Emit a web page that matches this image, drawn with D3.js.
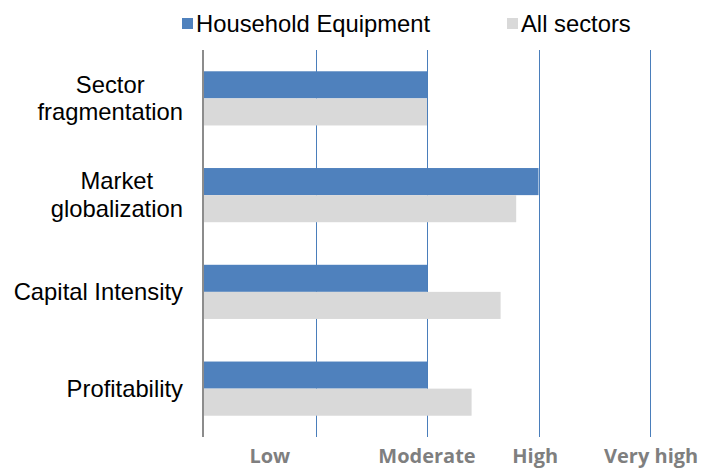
<!DOCTYPE html>
<html>
<head>
<meta charset="utf-8">
<script src="https://cdn.jsdelivr.net/npm/d3@7"></script>
<style>
  body { margin: 0; background: #fff; }
  svg { display: block; }
  .cat-label { font-family: "Liberation Sans", Arial, sans-serif; font-size: 23.8px; fill: #000; }
  .legend-text { font-family: "Liberation Sans", Arial, sans-serif; font-size: 23.8px; fill: #000; }
  .level-label { font-family: "Open Sans", sans-serif; font-weight: bold; font-size: 20px; fill: #7f7f7f; }
</style>
</head>
<body>
<svg id="chart" width="702" height="468"></svg>
<script>
// chart data
const categories = [
  ['Sector', 'fragmentation'],
  ['Market', 'globalization'],
  ['Capital Intensity'],
  ['Profitability']
];
const seriesNames = ['Household Equipment', 'All sectors'];
const householdValues = [2, 3, 2, 2];
const allSectorsValues = [2, 2.8, 2.66, 2.4];
const gridValues = [1, 2, 3, 4];
const levelLabels = ['Low', 'Moderate', 'High', 'Very high'];
const levelPositions = [0.59, 2, 2.97, 4.01];

const colors = ['#4f81bd', '#d9d9d9'];

const svg = d3.select('#chart');
const margin = { top: 50, left: 204, right: 52, bottom: 31 };
const width = 702, height = 468;

const xScale = d3.scaleLinear().domain([0, 4]).range([margin.left, width - margin.right]);
const yScale = d3.scaleBand()
  .domain(d3.range(categories.length))
  .range([margin.top, height - margin.bottom])
  .paddingInner(0.44)
  .paddingOuter(0.22);
const subScale = d3.scaleBand().domain([0, 1]).range([0, yScale.bandwidth()]);

// gridlines
svg.append('g')
  .selectAll('line')
  .data(gridValues)
  .join('line')
  .attr('x1', d => Math.round(xScale(d)) + 0.5)
  .attr('x2', d => Math.round(xScale(d)) + 0.5)
  .attr('y1', margin.top)
  .attr('y2', height - margin.bottom)
  .attr('stroke', '#4a7ebb')
  .attr('stroke-width', 1);

// bars
const rows = categories.map((c, i) => [householdValues[i], allSectorsValues[i]]);
const groups = svg.append('g')
  .selectAll('g')
  .data(rows)
  .join('g')
  .attr('transform', (d, i) => `translate(0,${yScale(i)})`);

groups.selectAll('rect')
  .data(d => d)
  .join('rect')
  .attr('x', xScale(0))
  .attr('y', (d, j) => subScale(j))
  .attr('width', d => xScale(d) - xScale(0))
  .attr('height', subScale.bandwidth())
  .attr('fill', (d, j) => colors[j]);

// vertical axis line
svg.append('line')
  .attr('x1', xScale(0) - 1)
  .attr('x2', xScale(0) - 1)
  .attr('y1', margin.top)
  .attr('y2', height - margin.bottom)
  .attr('stroke', '#8c8c8c')
  .attr('stroke-width', 2);

// category labels, lines centred within a right-aligned block
const labelRight = 183;
categories.forEach((lines, i) => {
  const cy = yScale(i) + yScale.bandwidth() / 2;
  const t = svg.append('text').attr('class', 'cat-label').attr('text-anchor', 'middle');
  const lineH = 27.6;
  const firstBase = cy + 9 - (lines.length - 1) * lineH / 2 - 1;
  lines.forEach((ln, k) => {
    t.append('tspan').attr('y', firstBase + k * lineH).text(ln);
  });
  let maxW = 0;
  t.selectAll('tspan').each(function () { maxW = Math.max(maxW, this.getComputedTextLength()); });
  t.selectAll('tspan').attr('x', labelRight - maxW / 2);
});

// level labels along the bottom
svg.append('g')
  .selectAll('text')
  .data(levelLabels)
  .join('text')
  .attr('class', 'level-label')
  .attr('text-anchor', 'middle')
  .attr('x', (d, i) => xScale(levelPositions[i]))
  .attr('y', 463)
  .text(d => d);

// legend
const legendX = [182, 507];
const legend = svg.append('g')
  .selectAll('g')
  .data(seriesNames)
  .join('g')
  .attr('transform', (d, i) => `translate(${legendX[i]},18)`);
legend.append('rect')
  .attr('width', 11)
  .attr('height', 11)
  .attr('fill', (d, i) => colors[i]);
legend.append('text')
  .attr('class', 'legend-text')
  .attr('x', 14)
  .attr('y', 14)
  .text(d => d);
</script>
</body>
</html>
